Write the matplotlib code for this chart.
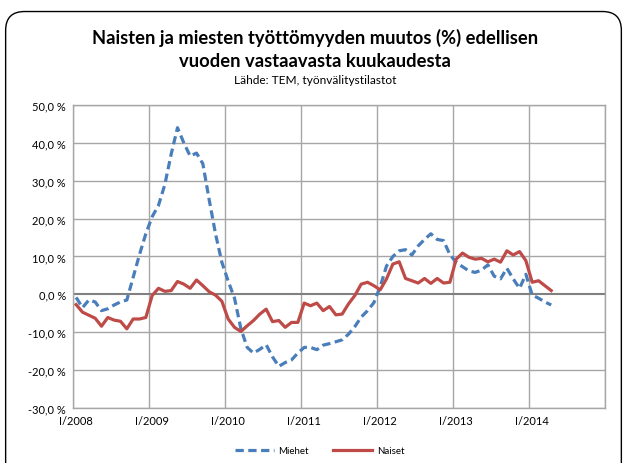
import matplotlib
matplotlib.use("Agg")
import matplotlib.pyplot as plt
from matplotlib.patches import FancyBboxPatch
from matplotlib.lines import Line2D

plt.rcParams['font.family'] = ['Lato', 'DejaVu Sans']

# monthly data, I/2008 .. IV/2014
miehet = [
    -0.8, -3.5, -1.5, -2.0, -4.3, -3.8, -2.8, -2.0, -1.5, 4.5, 10.5, 16.0,
    20.5, 23.5, 29.0, 37.0, 44.0, 40.0, 36.5, 37.3, 34.5, 25.0, 16.0, 8.5,
    3.5, -1.0, -9.0, -14.0, -15.5, -14.5, -13.3, -16.5, -19.0, -18.0, -17.3, -15.5,
    -14.0, -14.0, -14.6, -13.4, -13.0, -12.5, -12.0, -10.5, -8.5, -6.0, -4.3, -2.2,
    2.0, 7.5, 10.0, 11.5, 11.8, 10.4, 12.8, 14.5, 16.0, 14.5, 14.2, 10.5,
    8.5, 7.3, 6.2, 5.8, 6.4, 7.8, 4.8, 4.1, 6.9, 4.1, 1.6, 5.3,
    -0.2, -1.0, -2.0, -2.8,
]
naiset = [
    -2.7, -4.7, -5.5, -6.3, -8.4, -6.1, -6.8, -7.1, -9.1, -6.5, -6.5, -6.1,
    -0.3, 1.6, 0.8, 1.0, 3.4, 2.7, 1.6, 3.8, 2.3, 0.7, -0.2, -1.8,
    -6.5, -8.7, -9.8, -8.3, -6.9, -5.2, -3.9, -7.2, -6.9, -8.7, -7.4, -7.4,
    -2.3, -3.0, -2.3, -4.3, -3.2, -5.4, -5.2, -2.5, -0.3, 2.7, 3.2, 2.3,
    1.2, 4.1, 8.0, 8.6, 4.2, 3.6, 3.0, 4.2, 2.9, 4.2, 3.0, 3.2,
    9.3, 10.9, 9.8, 9.3, 9.5, 8.6, 9.3, 8.5, 11.5, 10.4, 11.3, 8.9,
    3.2, 3.6, 2.3, 1.0,
]
years = [2008, 2009, 2010, 2011, 2012, 2013, 2014]
y_ticks = [-30, -20, -10, 0, 10, 20, 30, 40, 50]

blue = '#4a7ebb'
red = '#be4b48'
grid_col = '#a6a6a6'

fig = plt.figure(figsize=(6.27, 4.64), dpi=100)

# rounded chart border
border = FancyBboxPatch((0.009, -0.05), 0.982, 1.023, boxstyle="round,pad=0,rounding_size=0.03",
                        transform=fig.transFigure, facecolor='none', edgecolor='black',
                        linewidth=1.0, mutation_aspect=627 / 464, zorder=-1)
fig.patches.append(border)

ax = fig.add_axes([0.1164, 0.1185, 0.8486, 0.6531])
x = [i + 0.5 for i in range(len(miehet))]

for t in y_ticks:
    if t != 0:
        ax.axhline(t, color=grid_col, lw=1.0, zorder=1)
for k in range(len(years) + 1):
    ax.axvline(12 * k, color=grid_col, lw=1.0, zorder=1)
ax.axhline(0, color='#808080', lw=1.5, zorder=2)

ax.plot(x, miehet, color=blue, lw=2.3, dashes=(2.6, 1.4), zorder=3)
ax.plot(x, naiset, color=red, lw=2.3, zorder=4)

ax.set_xlim(0, 84)
ax.set_ylim(-30, 50)
ax.set_yticks(y_ticks)
ax.set_yticklabels([f"{t:.1f} %".replace('.', ',') for t in y_ticks], fontsize=8)
ax.set_xticks([12 * k + 0.5 for k in range(len(years))])
ax.set_xticklabels([f"I/{y}" for y in years], fontsize=8)
ax.tick_params(length=0, pad=5)
for s in ax.spines.values():
    s.set_color(grid_col)
    s.set_linewidth(1.0)

fig.text(0.502, 0.918, "Naisten ja miesten työttömyyden muutos (%) edellisen",
         ha='center', va='center', fontsize=13.2, fontweight='bold')
fig.text(0.502, 0.868, "vuoden vastaavasta kuukaudesta",
         ha='center', va='center', fontsize=13.2, fontweight='bold')
fig.text(0.502, 0.826, "Lähde: TEM, työnvälitystilastot",
         ha='center', va='center', fontsize=8.6)

handles = [Line2D([], [], color=blue, lw=2.3, dashes=(2.6, 1.4)),
           Line2D([], [], color=red, lw=2.3)]
fig.legend(handles, ["Miehet", "Naiset"], loc='center', bbox_to_anchor=(0.51, 0.027),
           ncol=2, frameon=False, fontsize=7, handlelength=4, columnspacing=2.5,
           handletextpad=0.5)

fig.savefig("out.png", dpi=100)
